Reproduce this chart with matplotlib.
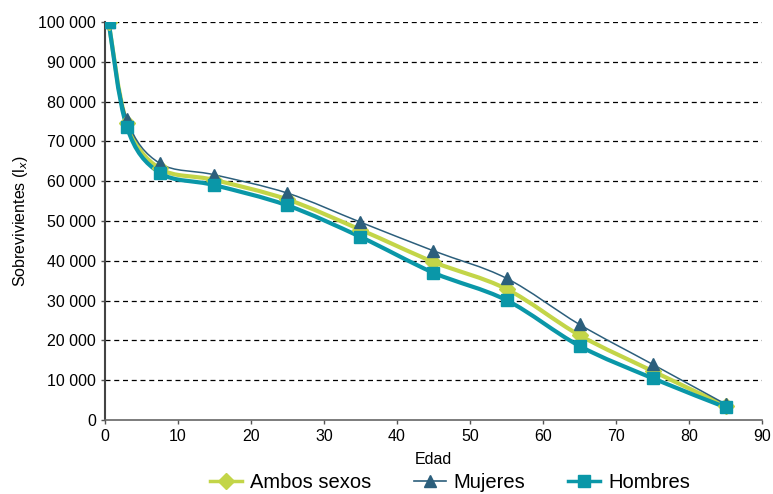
import numpy as np
import matplotlib.pyplot as plt
from matplotlib.path import Path
from matplotlib.patches import PathPatch
from matplotlib.lines import Line2D

plt.rcParams['font.family'] = ['Liberation Sans', 'DejaVu Sans']

edad = [0.5, 3, 7.5, 15, 25, 35, 45, 55, 65, 75, 85]
ambos = [100000, 74600, 63200, 60300, 55400, 47800, 39700, 32900, 21300, 12300, 3600]
mujeres = [100000, 75600, 64500, 61600, 57000, 49700, 42500, 35600, 24000, 14000, 4000]
hombres = [100000, 73600, 62100, 59000, 53900, 46000, 37000, 30100, 18600, 10500, 3200]

series = [
    ("Ambos sexos", ambos, "#C3D548", 3.0, "D", 8.5),
    ("Mujeres", mujeres, "#2C5F7C", 1.1, "^", 8.5),
    ("Hombres", hombres, "#0A97A8", 3.0, "s", 8.5),
]


def smooth_path(x, y):
    # Catmull-Rom style bezier, like a spreadsheet "smoothed line"
    pts = np.column_stack([x, y]).astype(float)
    verts = [pts[0]]
    codes = [Path.MOVETO]
    n = len(pts)
    for i in range(n - 1):
        p0 = pts[i - 1] if i > 0 else pts[i]
        p1 = pts[i]
        p2 = pts[i + 1]
        p3 = pts[i + 2] if i + 2 < n else pts[i + 1]
        c1 = p1 + (p2 - p0) / 6.0
        c2 = p2 - (p3 - p1) / 6.0
        verts += [c1, c2, p2]
        codes += [Path.CURVE4] * 3
    return Path(verts, codes)


fig = plt.figure(figsize=(7.73, 4.94), dpi=100)
ax = fig.add_axes([0.1358, 0.1498, 0.85, 0.8057])

for yv in range(10000, 100001, 10000):
    ax.axhline(yv, color="black", lw=0.9, ls=(0, (4, 3)), zorder=1)

handles = []
for name, vals, col, lw, mk, ms in series:
    ax.add_patch(PathPatch(smooth_path(edad, vals), fill=False, edgecolor=col,
                           lw=lw, zorder=3))
    ax.plot(edad, vals, ls="none", marker=mk, ms=ms, color=col, zorder=4)
    handles.append(Line2D([], [], color=col, lw=2.5 if lw > 2 else 1.2,
                          marker=mk, ms=ms, label=name))

ax.set_xlim(0, 90)
ax.set_ylim(0, 100000)
ax.set_xticks(range(0, 91, 10))
ax.set_yticks(range(0, 100001, 10000))
ax.set_yticklabels([f"{v:,}".replace(",", " ") for v in range(0, 100001, 10000)])
ax.tick_params(labelsize=11.5, length=3, width=1, color="#555555")

for s in ["top", "right"]:
    ax.spines[s].set_visible(False)
ax.spines["left"].set_color("#444444")
ax.spines["left"].set_linewidth(1.5)
ax.spines["bottom"].set_color("#666666")
ax.spines["bottom"].set_linewidth(1.2)

ax.set_xlabel("Edad", fontsize=11.5, labelpad=6)
ax.set_ylabel("Sobrevivientes (l$_x$)", fontsize=11.5, labelpad=6)

fig.legend(handles=handles, loc="lower center", ncol=3, frameon=False,
           fontsize=14.5, bbox_to_anchor=(0.582, -0.032), handlelength=1.6,
           columnspacing=2.1, handletextpad=0.4)

fig.savefig("out.png", dpi=100)
